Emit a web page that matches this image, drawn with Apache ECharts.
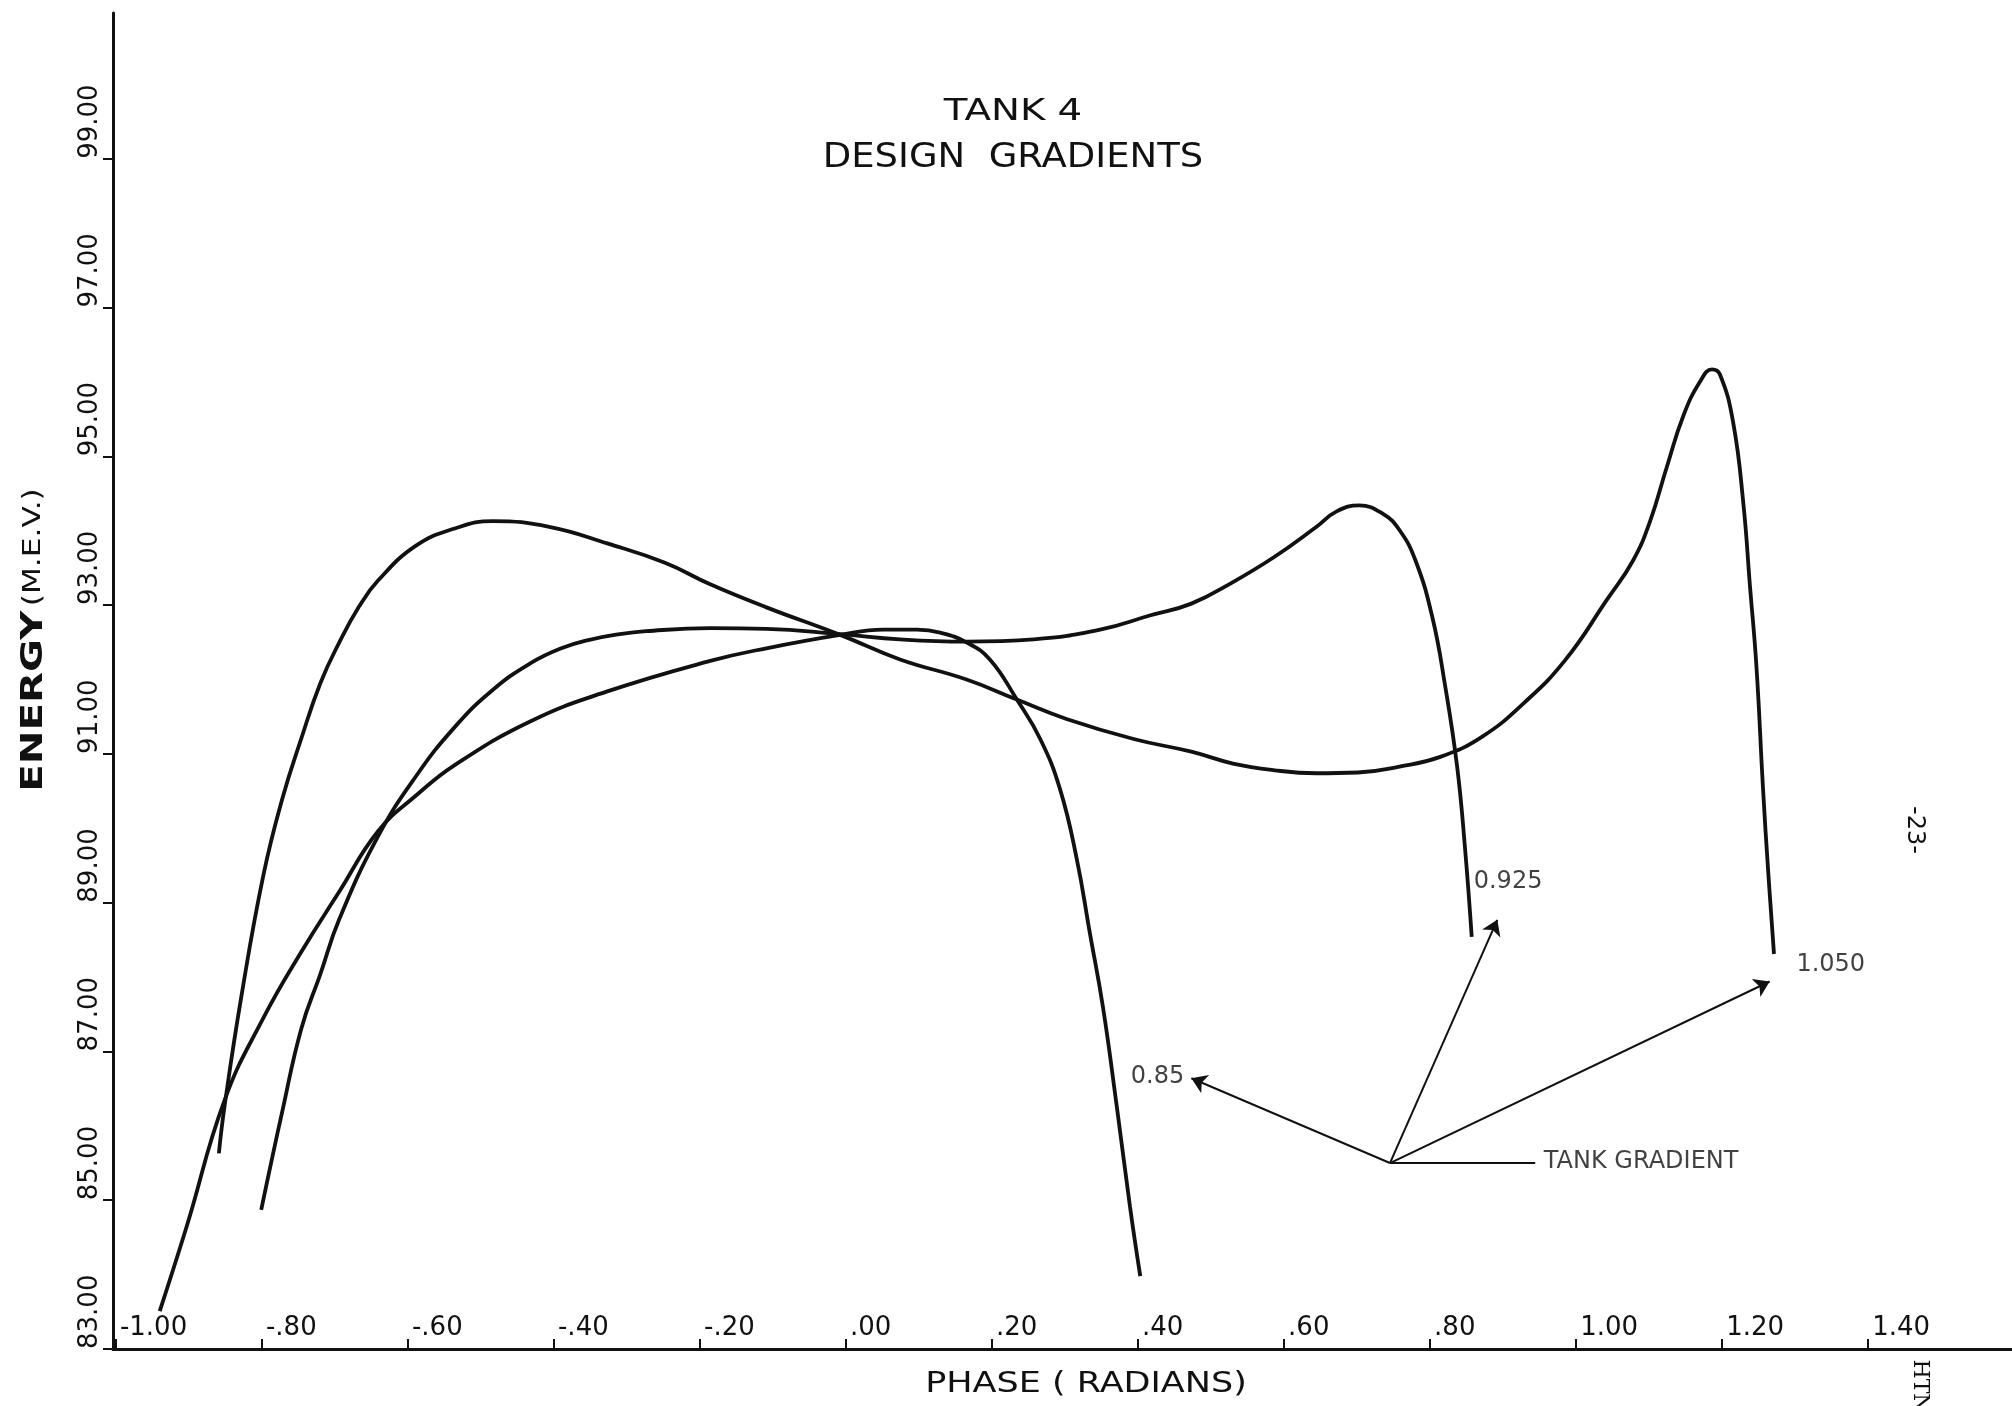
<!DOCTYPE html>
<html>
<head>
<meta charset="utf-8">
<script src="https://cdn.jsdelivr.net/npm/echarts@6/dist/echarts.min.js"></script>
<style>
html,body{margin:0;padding:0;background:#ffffff;}
#chart{width:2012px;height:1406px;}
</style>
</head>
<body>
<div id="chart"></div>
<script>
// ---- tick values and labels ----
const xTickValues = [-1.0, -0.8, -0.6, -0.4, -0.2, 0.0, 0.2, 0.4, 0.6, 0.8, 1.0, 1.2, 1.4];
const xTickLabels = ['-1.00', '-.80', '-.60', '-.40', '-.20', '.00', '.20', '.40', '.60', '.80', '1.00', '1.20', '1.40'];
const yTickValues = [83, 85, 87, 89, 91, 93, 95, 97, 99];
const yTickLabels = ['83.00', '85.00', '87.00', '89.00', '91.00', '93.00', '95.00', '97.00', '99.00'];

// ---- curves: [phase (rad), energy (MeV)] ----
const gradient085 = [
  [-0.940, 83.51], [-0.903, 84.65], [-0.851, 86.35], [-0.798, 87.45], [-0.746, 88.34],
  [-0.694, 89.15], [-0.641, 89.96], [-0.589, 90.44], [-0.536, 90.85], [-0.432, 91.44], [-0.327, 91.84],
  [-0.186, 92.25], [-0.109, 92.42], [-0.008, 92.60], [0.051, 92.67], [0.097, 92.67],
  [0.129, 92.63], [0.165, 92.50], [0.197, 92.27], [0.234, 91.73], [0.266, 91.20],
  [0.293, 90.53], [0.316, 89.59], [0.334, 88.59], [0.352, 87.59], [0.371, 86.25],
  [0.389, 84.91], [0.403, 83.98]
];
const gradient0925 = [
  [-0.801, 84.87], [-0.772, 86.20], [-0.746, 87.31], [-0.720, 88.04], [-0.694, 88.78],
  [-0.641, 89.89], [-0.589, 90.70], [-0.536, 91.36], [-0.484, 91.86], [-0.432, 92.22],
  [-0.390, 92.42], [-0.353, 92.53], [-0.310, 92.61], [-0.274, 92.65], [-0.186, 92.69], [-0.109, 92.68], [-0.008, 92.61],
  [0.074, 92.54], [0.165, 92.51], [0.257, 92.54], [0.348, 92.67], [0.416, 92.86],
  [0.473, 93.02], [0.530, 93.31], [0.587, 93.65], [0.644, 94.05], [0.672, 94.26],
  [0.703, 94.34], [0.735, 94.23], [0.758, 94.01], [0.780, 93.60], [0.803, 92.84],
  [0.820, 91.95], [0.837, 90.83], [0.848, 89.71], [0.857, 88.54]
];
const gradient1050 = [
  [-0.859, 85.63], [-0.851, 86.28], [-0.828, 87.75], [-0.798, 89.37], [-0.772, 90.40],
  [-0.746, 91.21], [-0.720, 91.95], [-0.694, 92.50], [-0.667, 92.98], [-0.641, 93.33], [-0.589, 93.80],
  [-0.536, 94.03], [-0.484, 94.13], [-0.405, 94.05], [-0.327, 93.83], [-0.248, 93.57],
  [-0.186, 93.28], [-0.109, 92.97], [-0.008, 92.60], [0.074, 92.27], [0.165, 92.00],
  [0.234, 91.73], [0.302, 91.47], [0.394, 91.20], [0.473, 91.03], [0.530, 90.87],
  [0.587, 90.78], [0.644, 90.74], [0.701, 90.75], [0.758, 90.83], [0.814, 90.96],
  [0.871, 91.23], [0.928, 91.68], [0.985, 92.26], [1.042, 93.07], [1.078, 93.60],
  [1.101, 94.12], [1.124, 94.85], [1.147, 95.55], [1.170, 96.01], [1.186, 96.17],
  [1.197, 96.10], [1.215, 95.46], [1.229, 94.37], [1.238, 93.27], [1.247, 92.17],
  [1.256, 90.53], [1.263, 89.43], [1.271, 88.31]
];

// ---- annotation anchors (data coordinates) ----
const tankGradientOrigin = [0.745, 85.50];
const arrowTip085 = [0.473, 86.64];
const arrowTip0925 = [0.892, 88.77];
const arrowTip1050 = [1.265, 87.94];
const tankGradientLineEnd = [0.944, 85.50];
const annotationNames = ['0.85', '0.925', '1.050', 'TANK GRADIENT'];
const annotationAnchors = [[0.466, 86.66], [0.857, 89.28], [1.299, 88.16], [0.953, 85.52]];
const annotationSides = ['left', 'right', 'right', 'right'];

const FONT = 'DejaVu Sans';
const INK = '#111111';

function lookup(values, labels, v) {
  for (let i = 0; i < values.length; i++) {
    if (Math.abs(values[i] - v) < 1e-6) return labels[i];
  }
  return '';
}

function curve(name, data) {
  return {
    name: name,
    type: 'line',
    data: data,
    smooth: 0.45,
    showSymbol: false,
    symbol: 'none',
    lineStyle: { color: INK, width: 3.8 },
    z: 3
  };
}

const chart = echarts.init(document.getElementById('chart'), null, { renderer: 'canvas' });

const option = {
  backgroundColor: '#ffffff',
  animation: false,
  grid: { left: 113, right: 0, top: 13, bottom: 57, containLabel: false },
  xAxis: {
    type: 'value',
    min: -1.004,
    max: 1.597,
    axisLine: { show: true, onZero: false, lineStyle: { color: INK, width: 3 } },
    axisTick: { show: true, inside: true, length: 10, customValues: xTickValues, lineStyle: { color: INK, width: 2 } },
    axisLabel: {
      show: true,
      inside: true,
      margin: 8,
      customValues: xTickValues,
      align: 'left',
      padding: [0, 0, 0, 4],
      fontFamily: FONT,
      fontSize: 26,
      color: INK,
      formatter: v => lookup(xTickValues, xTickLabels, v)
    },
    splitLine: { show: false }
  },
  yAxis: {
    type: 'value',
    min: 83,
    max: 100.96,
    axisLine: { show: true, onZero: false, lineStyle: { color: INK, width: 3 } },
    axisTick: { show: true, inside: false, length: 10, customValues: yTickValues, lineStyle: { color: INK, width: 2 } },
    axisLabel: {
      show: true,
      rotate: 90,
      margin: 10,
      customValues: yTickValues,
      align: 'left',
      verticalAlign: 'bottom',
      fontFamily: FONT,
      fontSize: 26,
      color: INK,
      formatter: v => lookup(yTickValues, yTickLabels, v)
    },
    splitLine: { show: false }
  },
  series: [
    curve('0.85', gradient085),
    curve('0.925', gradient0925),
    curve('1.050', gradient1050),
    {
      name: 'annotations',
      type: 'scatter',
      symbolSize: 0,
      data: annotationAnchors.map((p, i) => ({
        value: p,
        label: {
          show: true,
          position: annotationSides[i],
          distance: 2,
          formatter: annotationNames[i],
          fontFamily: FONT,
          fontSize: 24,
          color: INK
        }
      })),
      markLine: {
        silent: true,
        symbol: ['none', 'arrow'],
        symbolSize: 15,
        label: { show: false },
        lineStyle: { color: INK, width: 2, type: 'solid' },
        data: [
          [{ coord: tankGradientOrigin }, { coord: arrowTip085 }],
          [{ coord: tankGradientOrigin }, { coord: arrowTip0925 }],
          [{ coord: tankGradientOrigin }, { coord: arrowTip1050 }],
          [{ coord: tankGradientOrigin }, { coord: tankGradientLineEnd, symbol: 'none' }]
        ]
      },
      z: 4
    }
  ],
  graphic: [
    { type: 'text', x: 1013, y: 112, scaleX: 1.25,
      style: { text: 'TANK 4', fontFamily: FONT, fontSize: 31, fill: INK, align: 'center', verticalAlign: 'middle' } },
    { type: 'text', x: 1013, y: 158, scaleX: 1.12,
      style: { text: 'DESIGN  GRADIENTS', fontFamily: FONT, fontSize: 33, fill: INK, align: 'center', verticalAlign: 'middle' } },
    { type: 'text', x: 1086, y: 1385, scaleX: 1.25,
      style: { text: 'PHASE ( RADIANS)', fontFamily: FONT, fontSize: 28, fill: INK, align: 'center', verticalAlign: 'middle' } },
    { type: 'text', x: 34, y: 640, rotation: Math.PI / 2, scaleX: 1.3,
      style: {
        text: '{a|ENERGY} {b|(M.E.V.)}',
        fill: INK, align: 'center', verticalAlign: 'middle',
        rich: {
          a: { fontFamily: FONT, fontSize: 31, fontWeight: 'bold', fill: INK },
          b: { fontFamily: FONT, fontSize: 24, fill: INK }
        }
      } },
    { type: 'text', x: 1914, y: 830, rotation: -Math.PI / 2,
      style: { text: '-23-', fontFamily: FONT, fontSize: 24, fill: INK, align: 'center', verticalAlign: 'middle' } },
    { type: 'text', x: 1920, y: 1386, rotation: -Math.PI / 2,
      style: { text: 'HTN', fontFamily: 'DejaVu Serif', fontSize: 22, fill: INK, align: 'center', verticalAlign: 'middle' } }
  ]
};

chart.setOption(option);
</script>
</body>
</html>
